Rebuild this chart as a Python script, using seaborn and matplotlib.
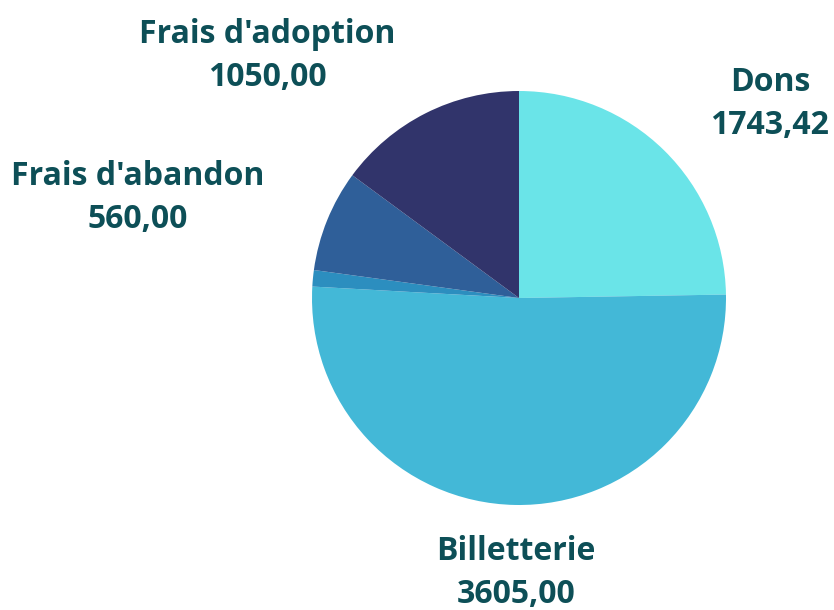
import matplotlib
matplotlib.use("Agg")
import matplotlib.pyplot as plt
import seaborn as sns

# Data
categories = ["Dons", "Billetterie", "Autres", "Frais d'abandon", "Frais d'adoption"]
values = [1743.42, 3605.00, 90.00, 560.00, 1050.00]
show_label = [True, True, False, True, True]
colors = ["#6ae4e8", "#43b8d7", "#2c8ebf", "#2f5f99", "#31346b"]

# label centers in pixel coordinates (x, y from top)
label_px = {"Dons": (770, 104), "Billetterie": (516, 573),
            "Frais d'abandon": (138, 198), "Frais d'adoption": (267, 56)}

sns.set_theme(style="white")
plt.rcParams['font.family'] = ['Open Sans', 'DejaVu Sans']

W, H = 834, 610
cx, cy, R = 519, 298, 207
fig = plt.figure(figsize=(W / 100, H / 100), dpi=100)
ax = fig.add_axes([0, 0, 1, 1])
ax.pie(values, colors=colors, startangle=90, counterclock=False,
       radius=1, center=(0, 0), wedgeprops=dict(linewidth=0))
ax.set_xlim(-cx / R, (W - cx) / R)
ax.set_ylim(-(H - cy) / R, cy / R)
ax.set_aspect('auto')
ax.axis('off')

for cat, v, show in zip(categories, values, show_label):
    if not show:
        continue
    px, py = label_px[cat]
    x = (px - cx) / R
    y = (cy - py) / R
    txt = f"{cat}\n{v:.2f}".replace('.', ',')
    ax.text(x, y, txt, ha='center', va='center', fontsize=23,
            fontweight='bold', color='#0d4f57', linespacing=1.4)

fig.savefig("out.png", dpi=100, facecolor='white')
